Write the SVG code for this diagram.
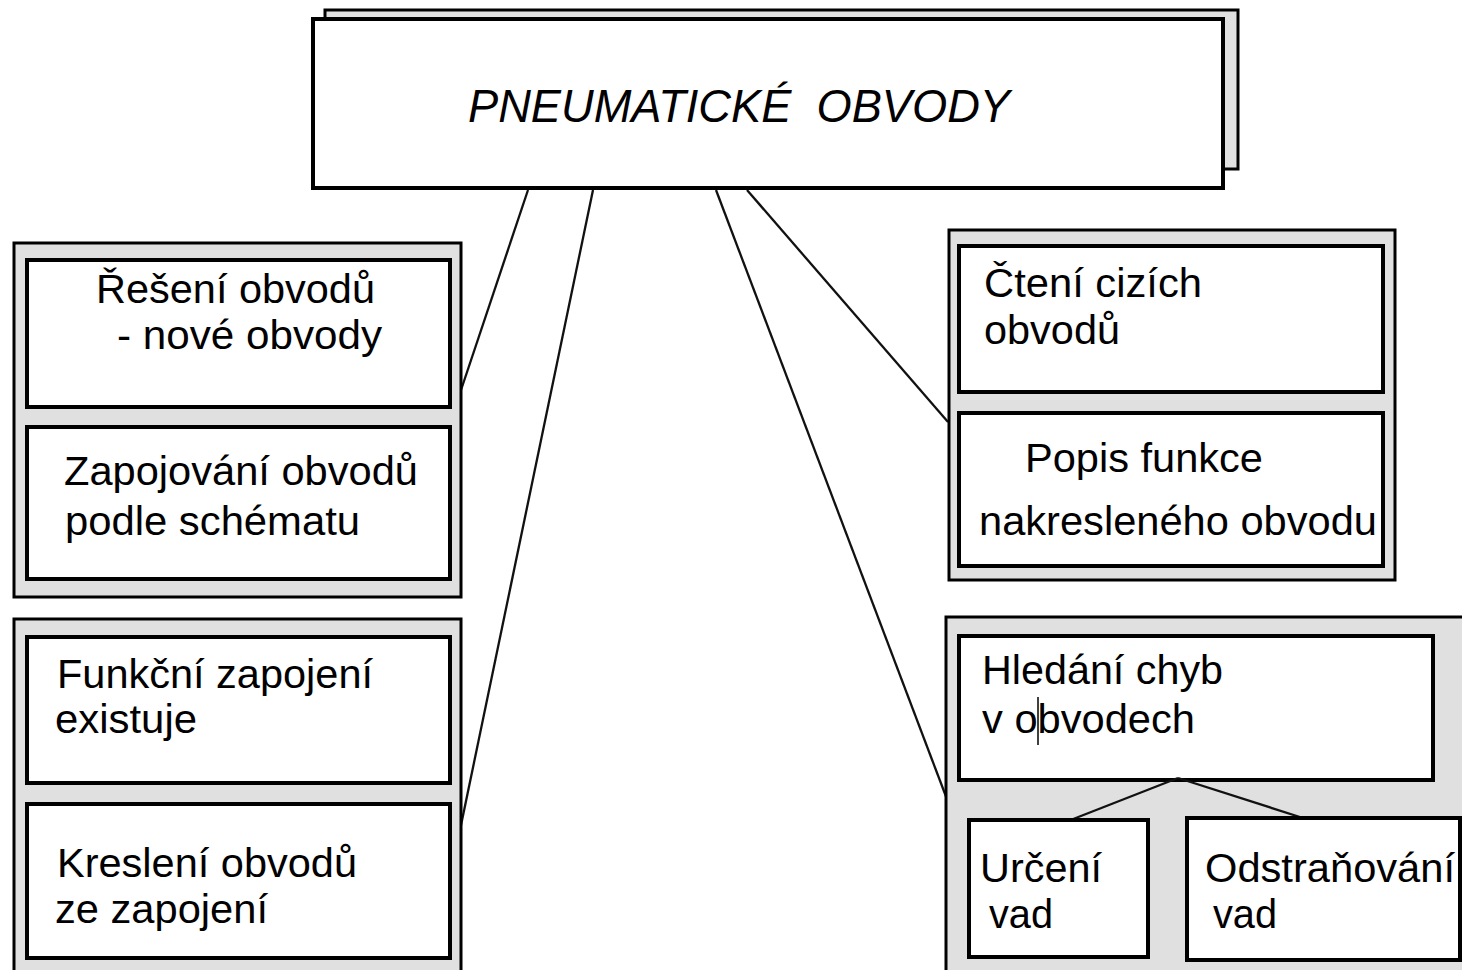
<svg xmlns="http://www.w3.org/2000/svg" width="1462" height="970" viewBox="0 0 1462 970">
  <style>
    .panel { fill: #e0e0e0; stroke: #000; stroke-width: 3; }
    .box { fill: #fff; stroke: #000; stroke-width: 4; }
    .lbl { font-family: "Liberation Sans", Arial, sans-serif; font-size: 40px; fill: #000; }
    .title { font-family: "Liberation Sans", Arial, sans-serif; font-size: 46px; font-style: italic; fill: #000; white-space: pre; }
    .wire { stroke: #111; stroke-width: 2.3; fill: none; }
  </style>
  <rect width="1462" height="970" fill="#fff"/>

  <!-- connectors from the title box -->
  <g id="connectors">
    <line class="wire" x1="528" y1="190" x2="455" y2="408"/>
    <line class="wire" x1="593" y1="190" x2="460" y2="830"/>
    <line class="wire" x1="716" y1="190" x2="953" y2="815"/>
    <line class="wire" x1="747" y1="190" x2="948" y2="422"/>
  </g>

  <!-- title box with offset backing sheet -->
  <g id="title">
    <rect x="325" y="10" width="913" height="159" class="panel" stroke-width="4"/>
    <rect x="313" y="19" width="910" height="169" class="box"/>
    <text class="title" xml:space="preserve" x="468" y="122" textLength="542" lengthAdjust="spacingAndGlyphs">PNEUMATICKÉ  OBVODY</text>
  </g>

  <!-- left upper panel -->
  <g id="left-upper">
    <rect x="14" y="243" width="447" height="354" class="panel"/>
    <g id="reseni">
      <rect x="27" y="260" width="423" height="147" class="box"/>
      <text class="lbl" x="96" y="303" textLength="279" lengthAdjust="spacingAndGlyphs">Řešení obvodů</text>
      <text class="lbl" x="117" y="349" textLength="265" lengthAdjust="spacingAndGlyphs">- nové obvody</text>
    </g>
    <g id="zapojovani">
      <rect x="27" y="427" width="423" height="152" class="box"/>
      <text class="lbl" x="64" y="485" textLength="354" lengthAdjust="spacingAndGlyphs">Zapojování obvodů</text>
      <text class="lbl" x="65" y="535" textLength="295" lengthAdjust="spacingAndGlyphs">podle schématu</text>
    </g>
  </g>

  <!-- left lower panel -->
  <g id="left-lower">
    <rect x="14" y="619" width="447" height="370" class="panel"/>
    <g id="funkcni">
      <rect x="27" y="637" width="423" height="146" class="box"/>
      <text class="lbl" x="57" y="688" textLength="316" lengthAdjust="spacingAndGlyphs">Funkční zapojení</text>
      <text class="lbl" x="55" y="733" textLength="142" lengthAdjust="spacingAndGlyphs">existuje</text>
    </g>
    <g id="kresleni">
      <rect x="27" y="804" width="423" height="154" class="box"/>
      <text class="lbl" x="57" y="877" textLength="300" lengthAdjust="spacingAndGlyphs">Kreslení obvodů</text>
      <text class="lbl" x="55" y="923" textLength="213" lengthAdjust="spacingAndGlyphs">ze zapojení</text>
    </g>
  </g>

  <!-- right upper panel -->
  <g id="right-upper">
    <rect x="949" y="230" width="446" height="350" class="panel"/>
    <g id="cteni">
      <rect x="959" y="246" width="424" height="146" class="box"/>
      <text class="lbl" x="984" y="297" textLength="218" lengthAdjust="spacingAndGlyphs">Čtení cizích</text>
      <text class="lbl" x="984" y="344" textLength="136" lengthAdjust="spacingAndGlyphs">obvodů</text>
    </g>
    <g id="popis">
      <rect x="959" y="413" width="424" height="153" class="box"/>
      <text class="lbl" x="1025" y="472" textLength="238" lengthAdjust="spacingAndGlyphs">Popis funkce</text>
      <text class="lbl" x="979" y="535" textLength="398" lengthAdjust="spacingAndGlyphs">nakresleného obvodu</text>
    </g>
  </g>

  <!-- right lower panel -->
  <g id="right-lower">
    <rect x="946" y="617" width="530" height="372" class="panel"/>
    <g id="hledani">
      <rect x="959" y="636" width="474" height="144" class="box"/>
      <text class="lbl" x="982" y="684" textLength="241" lengthAdjust="spacingAndGlyphs">Hledání chyb</text>
      <text class="lbl" x="982" y="733" textLength="213" lengthAdjust="spacingAndGlyphs">v obvodech</text>
      <line x1="1038" y1="697" x2="1038" y2="745" stroke="#000" stroke-width="1.5"/>
    </g>
    <g id="sub-connectors">
      <line class="wire" x1="1178" y1="778" x2="1063" y2="823"/>
      <line class="wire" x1="1178" y1="778" x2="1303" y2="818"/>
    </g>
    <g id="urceni">
      <rect x="969" y="820" width="179" height="137" class="box"/>
      <text class="lbl" x="980" y="882" textLength="122" lengthAdjust="spacingAndGlyphs">Určení</text>
      <text class="lbl" x="989" y="928" textLength="64" lengthAdjust="spacingAndGlyphs">vad</text>
    </g>
    <g id="odstranovani">
      <rect x="1187" y="818" width="273" height="142" class="box"/>
      <text class="lbl" x="1205" y="882" textLength="250" lengthAdjust="spacingAndGlyphs">Odstraňování</text>
      <text class="lbl" x="1213" y="928" textLength="64" lengthAdjust="spacingAndGlyphs">vad</text>
    </g>
  </g>
</svg>
